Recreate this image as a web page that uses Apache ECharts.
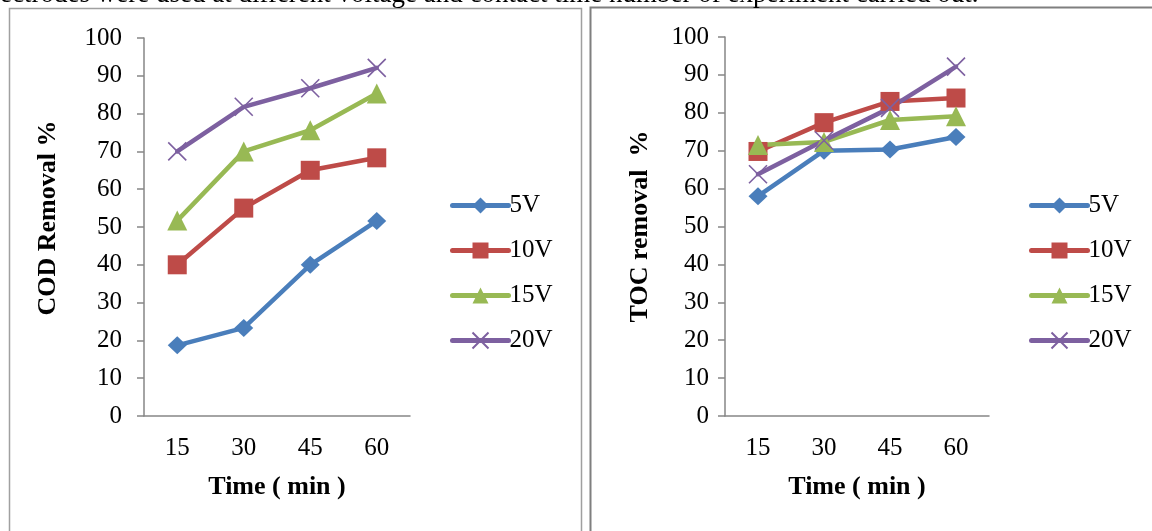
<!DOCTYPE html>
<html>
<head>
<meta charset="utf-8">
<script src="https://cdn.jsdelivr.net/npm/echarts@6/dist/echarts.min.js"></script>
<style>html,body{margin:0;padding:0;background:#fff;}#c{width:1152px;height:531px;}</style>
</head>
<body>
<div id="c"></div>
<script>
const categories = ['15', '30', '45', '60'];
const seriesNames = ['5V', '10V', '15V', '20V'];
const codValues = {
  '5V':  [18.7, 23.3, 40.0, 51.6],
  '10V': [40.0, 55.0, 65.0, 68.3],
  '15V': [51.7, 70.0, 75.6, 85.3],
  '20V': [70.0, 81.8, 86.7, 92.1]
};
const tocValues = {
  '5V':  [58.0, 70.0, 70.3, 73.6],
  '10V': [69.8, 77.4, 83.0, 83.9],
  '15V': [71.5, 72.3, 78.1, 79.1],
  '20V': [63.8, 72.7, 81.3, 92.2]
};
const yTicks = [0, 10, 20, 30, 40, 50, 60, 70, 80, 90, 100];
const leftTitle = 'COD Removal %';
const rightTitle = 'TOC removal  %';
const xTitle = 'Time ( min )';
const topText = 'ectrodes were used at different voltage and contact time number of experiment carried out.';

const colors = {'5V':'#4A7EBB','10V':'#BE4B48','15V':'#98B954','20V':'#7D60A0'};
const symbols = {'5V':'diamond','10V':'rect','15V':'triangle','20V':'path://M0,0L10,10M10,0L0,10'};
const sizes = {'5V':[19,18],'10V':19,'15V':20,'20V':18};
const FONT = '"Liberation Serif", "Times New Roman", serif';

function makeSeries(values, idx) {
  return seriesNames.map(n => ({
    name: n, type: 'line', xAxisIndex: idx, yAxisIndex: idx,
    data: values[n],
    symbol: symbols[n], symbolSize: sizes[n],
    lineStyle: {color: colors[n], width: 4.5, cap: 'round'},
    itemStyle: n === '20V'
      ? {color: colors[n], borderColor: colors[n], borderWidth: 1.6}
      : {color: colors[n], borderWidth: 0},
    emphasis: {disabled: true},
    animation: false
  }));
}

function xAxis(idx) {
  return {
    type: 'category', gridIndex: idx, data: categories, boundaryGap: true,
    axisLine: {lineStyle: {color: '#868686', width: 1.5}},
    axisTick: {show: false},
    axisLabel: {color: '#000', fontFamily: FONT, fontSize: 25, margin: 20},
    name: xTitle, nameLocation: 'middle', nameGap: 58,
    nameTextStyle: {color: '#000', fontFamily: FONT, fontSize: 26, fontWeight: 'bold'}
  };
}
function yAxis(idx, title, gap, margin, pad) {
  return {
    type: 'value', gridIndex: idx, min: yTicks[0], max: yTicks[yTicks.length-1],
    interval: yTicks[1] - yTicks[0],
    axisLine: {show: true, lineStyle: {color: '#868686', width: 1.5}},
    axisTick: {show: true, length: 7, lineStyle: {color: '#868686', width: 1.5}},
    splitLine: {show: false},
    axisLabel: {color: '#000', fontFamily: FONT, fontSize: 25, margin: margin},
    name: title, nameLocation: 'middle', nameGap: gap, nameRotate: 90,
    nameTextStyle: {color: '#000', fontFamily: FONT, fontSize: 26, fontWeight: 'bold', padding: pad}
  };
}
function legend(left) {
  return {
    data: seriesNames, orient: 'vertical', left: left, top: 188,
    itemWidth: 56, itemHeight: 20, itemGap: 20,
    lineStyle: {width: 5, cap: 'round'},
    textStyle: {color: '#000', fontFamily: FONT, fontSize: 25, lineHeight: 24, padding: [0,0,0,-4]},
    selectedMode: false
  };
}

const chart = echarts.init(document.getElementById('c'), null, {renderer: 'canvas'});
chart.setOption({
  backgroundColor: '#fff',
  animation: false,
  grid: [
    {left: 144, right: 1152 - 410, top: 38, bottom: 531 - 416},
    {left: 725, right: 1152 - 989, top: 37, bottom: 531 - 416}
  ],
  xAxis: [xAxis(0), xAxis(1)],
  yAxis: [yAxis(0, leftTitle, 83, 22, [0, 0, 0, 18]), yAxis(1, rightTitle, 72, 16, 0)],
  legend: [legend(445), legend(1024)],
  series: makeSeries(codValues, 0).concat(makeSeries(tocValues, 1)),
  graphic: [
    {type: 'rect', shape: {x: 9.5, y: 8.5, width: 572, height: 700}, style: {fill: 'none', stroke: '#a0a0a0', lineWidth: 1.5}, silent: true},
    {type: 'rect', shape: {x: 590.5, y: 7.5, width: 700, height: 700}, style: {fill: 'none', stroke: '#7f7f7f', lineWidth: 2}, silent: true},
    {type: 'text', x: 0, y: 8, style: {text: topText, font: '27px "Liberation Serif", serif', fill: '#000', align: 'left', verticalAlign: 'bottom'}, silent: true}
  ]
});
</script>
</body>
</html>
